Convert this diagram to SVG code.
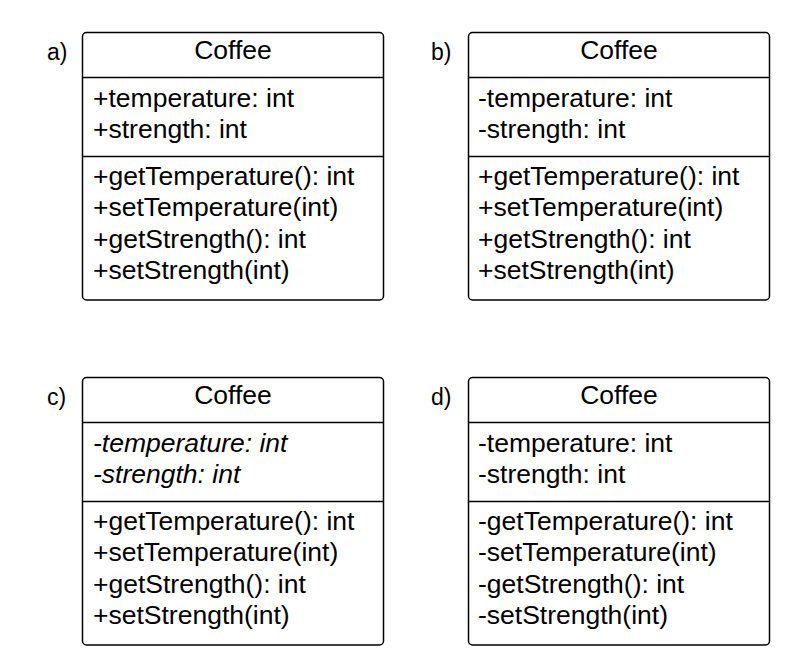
<svg xmlns="http://www.w3.org/2000/svg" width="800" height="672" viewBox="0 0 800 672">
<style>
.box{fill:#fff;stroke:#000;stroke-width:1.5}
.div{stroke:#000;stroke-width:1.5}
text{font-family:"Liberation Sans",Arial,sans-serif;font-size:26.5px;fill:#000}
.t{text-anchor:middle}
.lbl{font-size:23px}
.i{font-style:italic}
</style>
<rect width="800" height="672" fill="#fff"/>
<g id="a">
<text class="lbl" x="47" y="60">a)</text>
<rect class="box" x="82.5" y="32.5" width="301" height="267.5" rx="4"/>
<line class="div" x1="82.5" y1="77.5" x2="383.5" y2="77.5"/>
<line class="div" x1="82.5" y1="156.5" x2="383.5" y2="156.5"/>
<text class="t" x="233" y="59">Coffee</text>
<text x="93" y="106.5">+temperature: int</text>
<text x="93" y="138">+strength: int</text>
<text x="93" y="184.5">+getTemperature(): int</text>
<text x="93" y="216">+setTemperature(int)</text>
<text x="93" y="247.5">+getStrength(): int</text>
<text x="93" y="279">+setStrength(int)</text>
</g>
<g id="b">
<text class="lbl" x="431" y="60">b)</text>
<rect class="box" x="468.5" y="32.5" width="301" height="267.5" rx="4"/>
<line class="div" x1="468.5" y1="77.5" x2="769.5" y2="77.5"/>
<line class="div" x1="468.5" y1="156.5" x2="769.5" y2="156.5"/>
<text class="t" x="619" y="59">Coffee</text>
<text x="478" y="106.5">-temperature: int</text>
<text x="478" y="138">-strength: int</text>
<text x="478" y="184.5">+getTemperature(): int</text>
<text x="478" y="216">+setTemperature(int)</text>
<text x="478" y="247.5">+getStrength(): int</text>
<text x="478" y="279">+setStrength(int)</text>
</g>
<g id="c">
<text class="lbl" x="47" y="405">c)</text>
<rect class="box" x="82.5" y="377.5" width="301" height="267.5" rx="4"/>
<line class="div" x1="82.5" y1="422.5" x2="383.5" y2="422.5"/>
<line class="div" x1="82.5" y1="501.5" x2="383.5" y2="501.5"/>
<text class="t" x="233" y="404">Coffee</text>
<text class="i" x="93" y="451.5">-temperature: int</text>
<text class="i" x="93" y="483">-strength: int</text>
<text x="93" y="529.5">+getTemperature(): int</text>
<text x="93" y="561">+setTemperature(int)</text>
<text x="93" y="592.5">+getStrength(): int</text>
<text x="93" y="624">+setStrength(int)</text>
</g>
<g id="d">
<text class="lbl" x="431" y="405">d)</text>
<rect class="box" x="468.5" y="377.5" width="301" height="267.5" rx="4"/>
<line class="div" x1="468.5" y1="422.5" x2="769.5" y2="422.5"/>
<line class="div" x1="468.5" y1="501.5" x2="769.5" y2="501.5"/>
<text class="t" x="619" y="404">Coffee</text>
<text x="478" y="451.5">-temperature: int</text>
<text x="478" y="483">-strength: int</text>
<text x="478" y="529.5">-getTemperature(): int</text>
<text x="478" y="561">-setTemperature(int)</text>
<text x="478" y="592.5">-getStrength(): int</text>
<text x="478" y="624">-setStrength(int)</text>
</g>
<g id="connectors"></g>
</svg>
